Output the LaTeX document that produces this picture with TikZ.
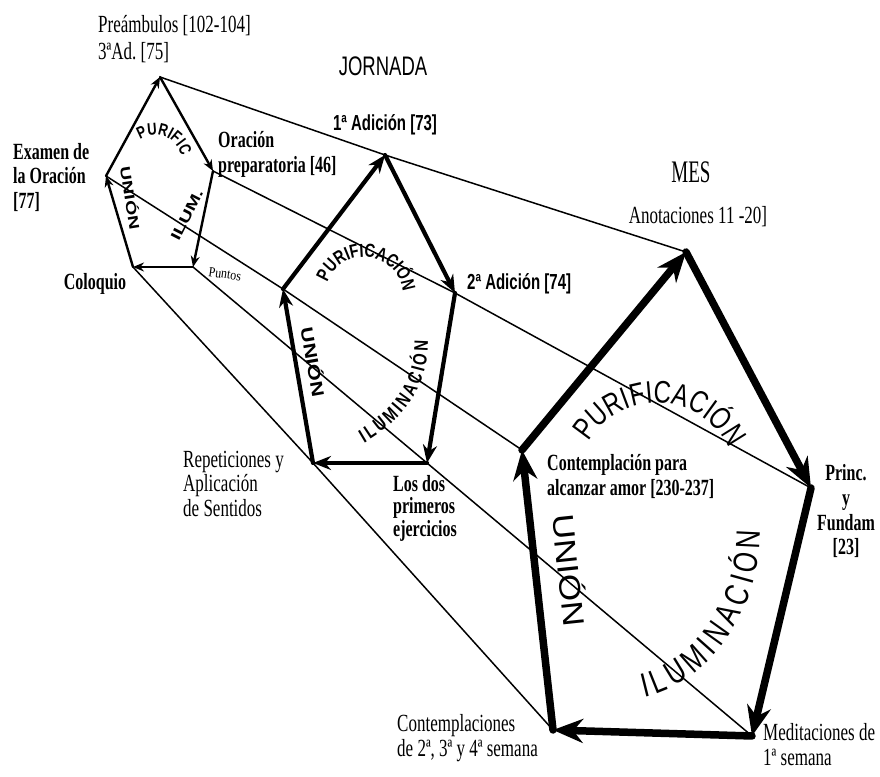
\documentclass[tikz,border=0pt]{standalone}
\usepackage{fontspec}
\setmainfont{Liberation Serif}
\newfontfamily\sansf{Liberation Sans}
\usepackage{graphicx}
\usetikzlibrary{arrows.meta,decorations.text}
\newcommand{\vsL}[1]{\scalebox{1}[1.45]{\begin{tabular}{@{}l@{}}#1\end{tabular}}}
\newcommand{\vsC}[1]{\scalebox{1}[1.45]{\begin{tabular}{@{}c@{}}#1\end{tabular}}}
\begin{document}
\begin{tikzpicture}[x=1pt,y=1pt,
  lab/.style={inner sep=0pt, font=\fontsize{17}{17}\selectfont},
  blab/.style={inner sep=0pt, font=\bfseries\fontsize{16}{17}\selectfont},
  slab/.style={inner sep=0pt, font=\sansf\bfseries\fontsize{15}{17}\selectfont},
  conn/.style={line width=1.5pt},
  esmall/.style={line width=2.4pt, line cap=round, -{Stealth[length=11pt,width=9pt]}},
  emid/.style={line width=4.2pt, line cap=round, -{Stealth[length=18pt,width=14pt]}},
  ebig/.style={line width=7.5pt, line cap=round, -{Stealth[length=30pt,width=24pt]}},
]
\useasboundingbox (0,0) rectangle (880,776);
% vertices
\coordinate (sT) at (160,699);
\coordinate (sR) at (213,605);
\coordinate (sBR) at (193,509);
\coordinate (sBL) at (133,509);
\coordinate (sL) at (106,600);
\coordinate (mT) at (385,621);
\coordinate (mR) at (455,483);
\coordinate (mBR) at (427,313);
\coordinate (mBL) at (313,313);
\coordinate (mL) at (283,487);
\coordinate (bT) at (686,524);
\coordinate (bR) at (811,288);
\coordinate (bBR) at (752,40);
\coordinate (bBL) at (553,46);
\coordinate (bL) at (522,326);
% connectors
\draw[conn] (sT) -- (mT) -- (bT);
\draw[conn] (sR) -- (mR) -- (bR);
\draw[conn] (sBR) -- (mBR) -- (bBR);
\draw[conn] (sBL) -- (mBL) -- (bBL);
\draw[conn] (sL) -- (mL) -- (bL);
% small pentagon
\draw[esmall] (sL) -- (sT);
\draw[esmall] (sT) -- (sR);
\draw[esmall] (sR) -- (sBR);
\draw[esmall] (sBR) -- (sBL);
\draw[esmall] (sBL) -- (sL);
% middle pentagon
\draw[emid] (mL) -- (mT);
\draw[emid] (mT) -- (mR);
\draw[emid] (mR) -- (mBR);
\draw[emid] (mBR) -- (mBL);
\draw[emid] (mBL) -- (mL);
% big pentagon
\draw[ebig] (bL) -- (bT);
\draw[ebig] (bT) -- (bR);
\draw[ebig] (bR) -- (bBR);
\draw[ebig] (bBR) -- (bBL);
\draw[ebig] (bBL) -- (bL);
% pentagon words
\path[decorate, decoration={text along path, text align=center, transform={yscale=1.3},
  text={|\sansf\bfseries\fontsize{13}{13}\selectfont|PURIFIC}}]
  ([shift={(178.5:27pt)}]155,614) arc[start angle=178.5, end angle=-41.5, radius=27pt];
\node[rotate=-81, inner sep=0pt] (uS) at (131,578)
  {\scalebox{1.5}[1.1]{\sansf\bfseries\fontsize{13}{13}\selectfont UNIÓN}};
\node[rotate=63, inner sep=0pt] (iS) at (187,561)
  {\scalebox{1.55}[1.1]{\sansf\bfseries\fontsize{13}{13}\selectfont ILUM.}};
\path[decorate, decoration={text along path, text align=center, transform={yscale=1.3},
  text={|\sansf\bfseries\fontsize{14.5}{14.5}\selectfont|PURIFICACIÓN}}]
  ([shift={(203:39pt)}]364,480) arc[start angle=203, end angle=-37, radius=39pt];
\node[rotate=-80, inner sep=0pt] (uM) at (314,414)
  {\scalebox{1.45}[1.15]{\sansf\bfseries\fontsize{15}{15}\selectfont UNIÓN}};
\path[decorate, decoration={text along path, text align=fit to path, transform={yscale=1.3},
  text={|\sansf\bfseries\fontsize{15}{15}\selectfont|ILUMINACIÓN}}]
  (364,333) .. controls (400,354) and (428,385) .. (428,435);
\path[decorate, decoration={text along path, text align=center, transform={yscale=1.3},
  text={|\sansf\fontsize{24}{24}\selectfont|PURIFICACIÓN}}]
  ([shift={(207.5:80pt)}]657,293) arc[start angle=207.5, end angle=-32.5, radius=80pt];
\node[rotate=-84, inner sep=0pt] (uB) at (571,206)
  {\scalebox{1.35}[1.15]{\sansf\fontsize{26}{26}\selectfont UNIÓN}};
\path[decorate, decoration={text along path, text align=fit to path, transform={yscale=1.3},
  text={|\sansf\fontsize{26}{26}\selectfont|ILUMINACIÓN}}]
  (644,79) .. controls (705,92) and (760,160) .. (760,245);
% labels
\node[lab, anchor=west] (preamb) at (98,735) {\vsL{Preámbulos [102-104]\\[2pt]3ªAd.\ [75]}};
\node[inner sep=0pt, font=\sansf\fontsize{18.5}{18.5}\selectfont] (jornada) at (383,706) {\vsL{JORNADA}};
\node[slab] (ad1) at (385,650) {\vsL{1ª Adición [73]}};
\node[blab, anchor=west] (orac) at (218,621) {\vsL{Oración\\preparatoria [46]}};
\node[blab, anchor=west] (examen) at (13,597) {\vsL{Examen de\\la Oración\\{[77]}}};
\node[blab] (coloquio) at (95,491) {\vsL{Coloquio}};
\node[inner sep=0pt, rotate=-8, font=\fontsize{10}{10}\selectfont] (puntos) at (225,502) {\scalebox{1.2}[1.4]{Puntos}};
\node[slab, anchor=west] (ad2) at (467,491) {\vsL{2ª Adición [74]}};
\node[lab, anchor=west] (repet) at (183,289) {\vsL{Repeticiones y\\Aplicación\\de Sentidos}};
\node[inner sep=0pt, anchor=west, font=\bfseries\fontsize{16}{15}\selectfont] (losdos) at (393,267) {\vsL{Los dos\\primeros\\ejercicios}};
\node[inner sep=0pt, font=\fontsize{19}{19}\selectfont] (mes) at (691,604) {\scalebox{1}[1.65]{MES}};
\node[lab] (anot) at (698,557) {\vsL{Anotaciones 11 -20]}};
\node[blab, anchor=west] (contemp) at (547,298) {\vsL{Contemplación para\\alcanzar amor [230-237]}};
\node[blab] (princ) at (846,263) {\vsC{Princ.\\y\\Fundam\\{[23]}}};
\node[lab, anchor=west] (contemps) at (397,37) {\vsL{Contemplaciones\\de 2ª, 3ª y 4ª semana}};
\node[lab, anchor=west] (medit) at (763,28) {\vsL{Meditaciones de\\1ª semana}};
\end{tikzpicture}
\end{document}
